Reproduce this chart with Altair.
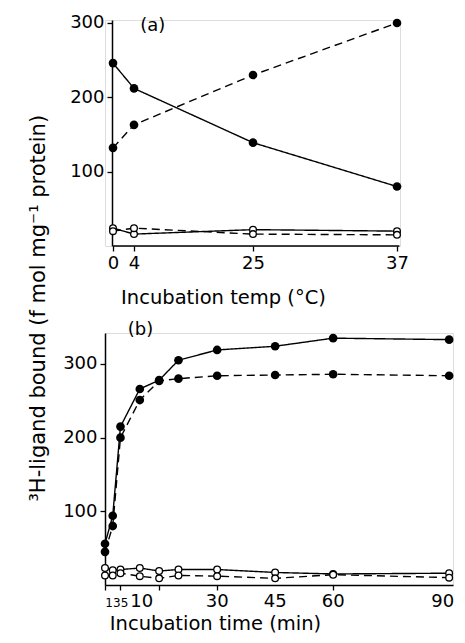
import altair as alt
import pandas as pd

# ---- data ----
temp = [0, 4, 25, 37]
a_filled_solid = [246, 212, 139, 80]
a_filled_dashed = [132, 163, 230, 300]
a_open_solid = [24, 16, 22, 20]
a_open_dashed = [20, 24, 16, 15]

time = [1, 3, 5, 10, 15, 20, 30, 45, 60, 90]
b_filled_solid = [56, 94, 215, 266, 278, 305, 319, 324, 335, 333]
b_filled_dashed = [45, 80, 200, 251, 277, 280, 284, 285, 286, 284]
b_open_solid = [23, 20, 21, 23, 19, 21, 21, 17, 15, 16]
b_open_dashed = [13, 13, 16, 12, 9, 13, 12, 9, 14, 10]

a_ticks = [0, 4, 25, 37]
b_ticks = [1, 3, 5, 10, 15, 20, 30, 45, 60, 90]
b_small_labels = [1, 3, 5]
b_mid_labels = [10]
b_big_labels = [30, 45, 60]
b_last_label = [90]
y_ticks = [100, 200, 300]

FONT = "DejaVu Sans"
DASH = [8, 5]
H_B = 252


def series(xs, ys, filled, dashed, X, Y):
    df = pd.DataFrame({"x": xs, "y": ys})
    base = alt.Chart(df).encode(x=X, y=Y)
    line = base.mark_line(color="black", strokeWidth=1.4,
                          strokeDash=DASH if dashed else [1, 0])
    if filled:
        pts = base.mark_circle(color="black", size=75, opacity=1)
    else:
        pts = base.mark_circle(color="white", stroke="black", strokeWidth=1.3,
                               size=45, opacity=1)
    return [line, pts]


def yaxis(offset):
    return alt.Axis(values=y_ticks, title=None, grid=False, tickSize=5,
                    labelPadding=3, labelFontSize=18, labelFont=FONT,
                    labelColor="black", domainColor="black", tickColor="black",
                    domainWidth=1.5, tickWidth=1.3, offset=offset)


# ---- panel (a) ----
Xa = alt.X("x:Q",
           scale=alt.Scale(domain=[0, 4, 25, 37], range=[8, 29, 148, 292],
                           nice=False, zero=False),
           axis=alt.Axis(values=a_ticks, title="Incubation temp (°C)", grid=False,
                         domain=False,
                         tickSize=5, labelFontSize=18, labelFont=FONT,
                         labelFlush=False,
                         labelPadding=3, labelColor="black",
                         tickColor="black", tickWidth=1.3,
                         titleFont=FONT, titleFontSize=19.5, titleFontWeight="normal",
                         titleColor="black", titleX=118, titleY=57,
                         titleBaseline="alphabetic", titleAlign="center"))
Ya = alt.Y("y:Q", scale=alt.Scale(domain=[0, 304], nice=False), axis=yaxis(-7))

layers_a = []
layers_a += series(temp, a_filled_solid, True, False, Xa, Ya)
layers_a += series(temp, a_filled_dashed, True, True, Xa, Ya)
layers_a += series(temp, a_open_solid, False, False, Xa, Ya)
layers_a += series(temp, a_open_dashed, False, True, Xa, Ya)
base_a = alt.Chart(pd.DataFrame({"t": ["(a)"]}))
axis_line_a = base_a.mark_rule(color="black", strokeWidth=1.5).encode(
    x=alt.datum(0), x2=alt.datum(37.2), y=alt.datum(0))
label_a = base_a.mark_text(font=FONT, fontSize=18, color="black").encode(
    x=alt.datum(7.3), y=alt.datum(296), text="t:N")
panel_a = alt.layer(axis_line_a, *layers_a, label_a).properties(width=295, height=226)

# ---- panel (b) ----
Xb = alt.X("x:Q",
           scale=alt.Scale(domain=[1, 91], nice=False, zero=False),
           axis=alt.Axis(values=b_ticks, title="Incubation time (min)", grid=False,
                         tickSize=5, labels=False,
                         domainColor="black",
                         tickColor="black", domainWidth=1.5, tickWidth=1.3,
                         titleFont=FONT, titleFontSize=19.5, titleFontWeight="normal",
                         titleColor="black", titleX=110, titleY=44,
                         titleBaseline="alphabetic", titleAlign="center"))
Yb = alt.Y("y:Q", scale=alt.Scale(domain=[0, 342], nice=False), axis=yaxis(0))

layers_b = []
layers_b += series(time, b_filled_solid, True, False, Xb, Yb)
layers_b += series(time, b_filled_dashed, True, True, Xb, Yb)
layers_b += series(time, b_open_solid, False, False, Xb, Yb)
layers_b += series(time, b_open_dashed, False, True, Xb, Yb)


def tick_labels(values, size, dx, align="center"):
    df = pd.DataFrame({"x": values, "t": [str(v) for v in values]})
    return alt.Chart(df).mark_text(font=FONT, fontSize=size, color="black",
                                   baseline="alphabetic", align=align, dx=dx).encode(
        x=Xb, y=alt.value(H_B + 22), text="t:N")


tick_text_b = [
    tick_labels(b_small_labels, 12, 4),
    tick_labels(b_mid_labels, 18, 2),
    tick_labels(b_big_labels, 18, 0),
    tick_labels(b_last_label, 18, 5, "right"),
]
label_b = alt.Chart(pd.DataFrame({"t": ["(b)"]})).mark_text(
    font=FONT, fontSize=18, color="black").encode(
    x=alt.datum(10.2), y=alt.datum(346), text="t:N")
panel_b = alt.layer(*layers_b, *tick_text_b, label_b).properties(width=348, height=H_B)

chart = alt.vconcat(panel_a, panel_b, spacing=13).properties(
    title=alt.TitleParams("³H-ligand bound (f mol mg⁻¹ protein)", orient="left",
                          anchor="middle", font=FONT, fontSize=21,
                          fontWeight="normal", color="black", offset=13, dx=15),
    padding={"left": 20, "top": 5, "right": 0, "bottom": 0},
).configure_view(stroke=None).configure(background="white")

chart.save("out.html", embed_options={"renderer": "svg", "actions": False})
